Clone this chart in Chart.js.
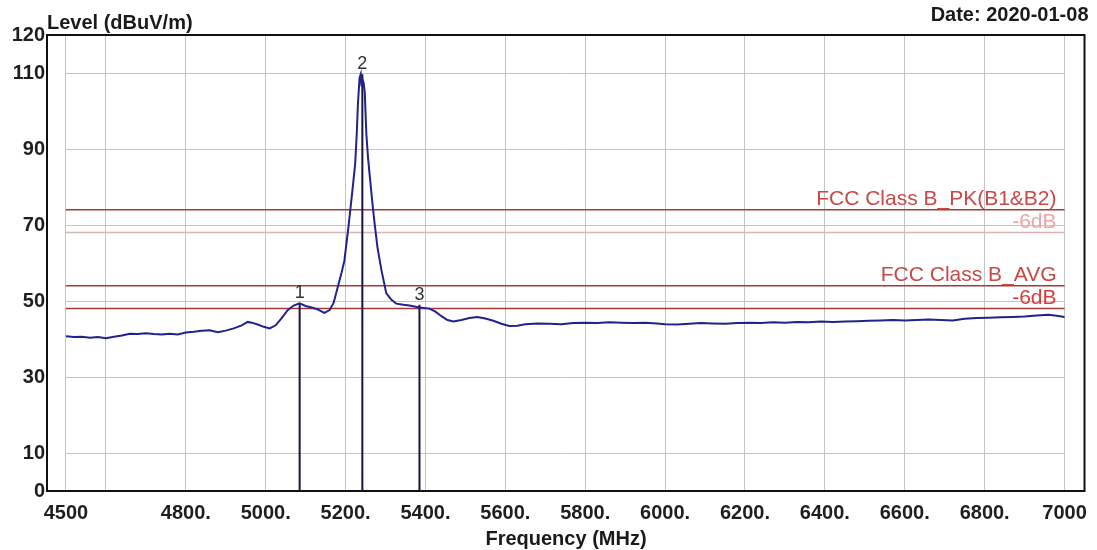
<!DOCTYPE html>
<html>
<head>
<meta charset="utf-8">
<script src="https://cdn.jsdelivr.net/npm/chart.js@4/dist/chart.umd.min.js"></script>
<style>
  body { margin: 0; background: #fff; }
  #wrap { width: 1097px; height: 550px; }
</style>
</head>
<body>
<div id="wrap"><canvas id="scan" width="1097" height="550"></canvas></div>
<script>
// trace (MHz / dBuV/m)
const freqMHz = [
  4500, 4520, 4540, 4560, 4580, 4600, 4620, 4640, 4660, 4680,
  4700, 4720, 4740, 4760, 4780, 4800, 4820, 4840, 4860, 4880,
  4900, 4920, 4940, 4955, 4965, 4980, 4995, 5010, 5025, 5040,
  5055, 5070, 5085, 5100, 5115, 5130, 5147, 5160, 5170, 5180,
  5190, 5197, 5207, 5217, 5224, 5228, 5231, 5235, 5238, 5240,
  5242, 5245, 5248, 5252, 5256, 5260, 5266, 5272, 5280, 5290,
  5302, 5315, 5327, 5345, 5360, 5385, 5410, 5425, 5440, 5455,
  5470, 5490, 5510, 5530, 5550, 5570, 5590, 5610, 5630, 5650,
  5680, 5710, 5740, 5770, 5800, 5830, 5860, 5890, 5920, 5950,
  5980, 6000, 6030, 6060, 6090, 6120, 6150, 6180, 6210, 6240,
  6270, 6300, 6330, 6360, 6390, 6420, 6450, 6480, 6510, 6540,
  6570, 6600, 6630, 6660, 6690, 6720, 6750, 6780, 6810, 6840,
  6870, 6900, 6930, 6960, 6980, 7000
];
const levelDb = [
  40.7, 40.5, 40.6, 40.3, 40.5, 40.2, 40.6, 40.9, 41.4, 41.3,
  41.5, 41.3, 41.2, 41.4, 41.2, 41.7, 41.9, 42.2, 42.3, 41.8,
  42.2, 42.8, 43.6, 44.5, 44.3, 43.8, 43.2, 42.8, 43.6, 45.5,
  47.6, 48.8, 49.4, 48.7, 48.3, 47.8, 46.9, 47.6, 49.5, 53.5,
  57.5, 60.6, 69.3, 79.0, 86.0, 94.0, 102.0, 108.7, 109.7, 106.5,
  108.4, 107.5, 105.0, 94.0, 88.0, 83.5, 77.0, 71.0, 64.0, 58.0,
  52.0, 50.3, 49.3, 49.0, 48.8, 48.3, 48.0, 47.2, 46.0, 45.0,
  44.6, 45.0, 45.5, 45.8, 45.4, 44.8, 44.0, 43.4, 43.5, 43.9,
  44.1, 44.0, 43.9, 44.2, 44.3, 44.2, 44.4, 44.3, 44.2, 44.3,
  44.1, 43.9, 43.8, 44.0, 44.2, 44.1, 44.0, 44.2, 44.3, 44.2,
  44.4, 44.3, 44.5, 44.4, 44.6, 44.5, 44.6, 44.7, 44.8, 44.9,
  45.0, 44.9, 45.0, 45.1, 45.0, 44.9, 45.3, 45.5, 45.6, 45.7,
  45.8, 45.9, 46.2, 46.4, 46.1, 45.8
];

const limitNames = ['FCC Class B_PK(B1&B2)', '-6dB', 'FCC Class B_AVG', '-6dB'];
const limitLevels = [74, 68, 54, 48];
const limitColors = ['#a33a3a', '#dcb4b4', '#a33a3a', '#a33a3a'];
const limitTextColors = ['#c94848', '#eaa6a6', '#c94848', '#d83c3c'];

const markerIds = ['1', '2', '3'];
const markerFreq = [5085, 5242, 5385];
const markerLevel = [49.4, 109.7, 49.0];

const xTickValues = [4500, 4600, 4800, 5000, 5200, 5400, 5600, 5800, 6000, 6200, 6400, 6600, 6800, 7000];
const xTickLabels = ['4500', '', '4800.', '5000.', '5200.', '5400.', '5600.', '5800.', '6000.', '6200.', '6400.', '6600.', '6800.', '7000'];
const yTickValues = [0, 10, 30, 50, 70, 90, 110, 120];
const yGridValues = [10, 30, 50, 70, 90, 110];

const FONT = 'Arial, "Liberation Sans", sans-serif';
const fStart = freqMHz[0];
const fStop = freqMHz[freqMHz.length - 1];

const datasets = [];
datasets.push({
  label: 'trace',
  data: freqMHz.map((f, i) => ({ x: f, y: levelDb[i] })),
  borderColor: '#22228c',
  borderWidth: 2,
  pointRadius: 0,
  showLine: true,
  order: 0
});
markerFreq.forEach((f, i) => {
  datasets.push({
    label: 'marker ' + markerIds[i],
    data: [{ x: f, y: 0 }, { x: f, y: markerLevel[i] }],
    borderColor: '#151545',
    borderWidth: 2,
    pointRadius: 0,
    showLine: true,
    order: 1
  });
});
limitLevels.forEach((lv, i) => {
  datasets.push({
    label: limitNames[i],
    data: [{ x: fStart, y: lv }, { x: fStop, y: lv }],
    borderColor: limitColors[i],
    borderWidth: 1.5,
    pointRadius: 0,
    showLine: true,
    order: 2
  });
});

const decorPlugin = {
  id: 'decor',
  beforeDatasetsDraw(chart) {
    const { ctx, scales: { x, y } } = chart;
    ctx.save();
    ctx.strokeStyle = '#c4c4c4';
    ctx.lineWidth = 1;
    yGridValues.forEach(v => {
      const py = Math.round(y.getPixelForValue(v)) + 0.5;
      ctx.beginPath();
      ctx.moveTo(x.getPixelForValue(fStart), py);
      ctx.lineTo(x.getPixelForValue(fStop), py);
      ctx.stroke();
    });
    ctx.restore();
  },
  afterDatasetsDraw(chart) {
    const { ctx, chartArea: a, scales: { x, y } } = chart;
    ctx.save();
    // plot frame
    ctx.strokeStyle = '#111';
    ctx.lineWidth = 2;
    ctx.strokeRect(a.left, a.top, a.right - a.left, a.bottom - a.top);

    // limit line captions
    ctx.font = '21px ' + FONT;
    ctx.textAlign = 'right';
    ctx.textBaseline = 'alphabetic';
    limitLevels.forEach((lv, i) => {
      ctx.fillStyle = limitTextColors[i];
      ctx.fillText(limitNames[i], x.getPixelForValue(fStop) - 8, y.getPixelForValue(lv) - 5);
    });

    // marker numbers
    ctx.font = '18px ' + FONT;
    ctx.fillStyle = '#333';
    ctx.textAlign = 'center';
    markerFreq.forEach((f, i) => {
      ctx.fillText(markerIds[i], x.getPixelForValue(f), y.getPixelForValue(markerLevel[i]) - 5);
    });

    // titles
    ctx.fillStyle = '#1a1a1a';
    ctx.font = 'bold 20px ' + FONT;
    ctx.textAlign = 'left';
    ctx.fillText('Level (dBuV/m)', a.left, 29);
    ctx.textAlign = 'right';
    ctx.fillText('Date: 2020-01-08', a.right + 4, 21);
    ctx.textAlign = 'center';
    ctx.fillText('Frequency (MHz)', 566, 545);
    ctx.restore();
  }
};

new Chart(document.getElementById('scan'), {
  type: 'scatter',
  data: { datasets },
  options: {
    responsive: false,
    animation: false,
    events: [],
    layout: { padding: { top: 35, right: 11, left: 0, bottom: 0 } },
    plugins: { legend: { display: false }, tooltip: { enabled: false } },
    scales: {
      x: {
        type: 'linear',
        min: 4452.5,
        max: 7050,
        afterBuildTicks: s => { s.ticks = xTickValues.map(v => ({ value: v })); },
        afterFit: s => { s.height = 59; },
        border: { display: false },
        grid: { color: '#c4c4c4', lineWidth: 1, drawTicks: false },
        ticks: {
          padding: 10,
          color: '#1e1e1e',
          font: { family: FONT, size: 20, weight: 'bold' },
          maxRotation: 0,
          autoSkip: false,
          callback: v => xTickLabels[xTickValues.indexOf(v)]
        }
      },
      y: {
        min: 0,
        max: 120,
        afterBuildTicks: s => { s.ticks = yTickValues.map(v => ({ value: v })); },
        afterFit: s => { s.width = 47; },
        border: { display: false },
        grid: { display: false, drawTicks: false },
        ticks: {
          padding: 2,
          color: '#1e1e1e',
          font: { family: FONT, size: 20, weight: 'bold' },
          autoSkip: false
        }
      }
    }
  },
  plugins: [decorPlugin]
});
</script>
</body>
</html>
